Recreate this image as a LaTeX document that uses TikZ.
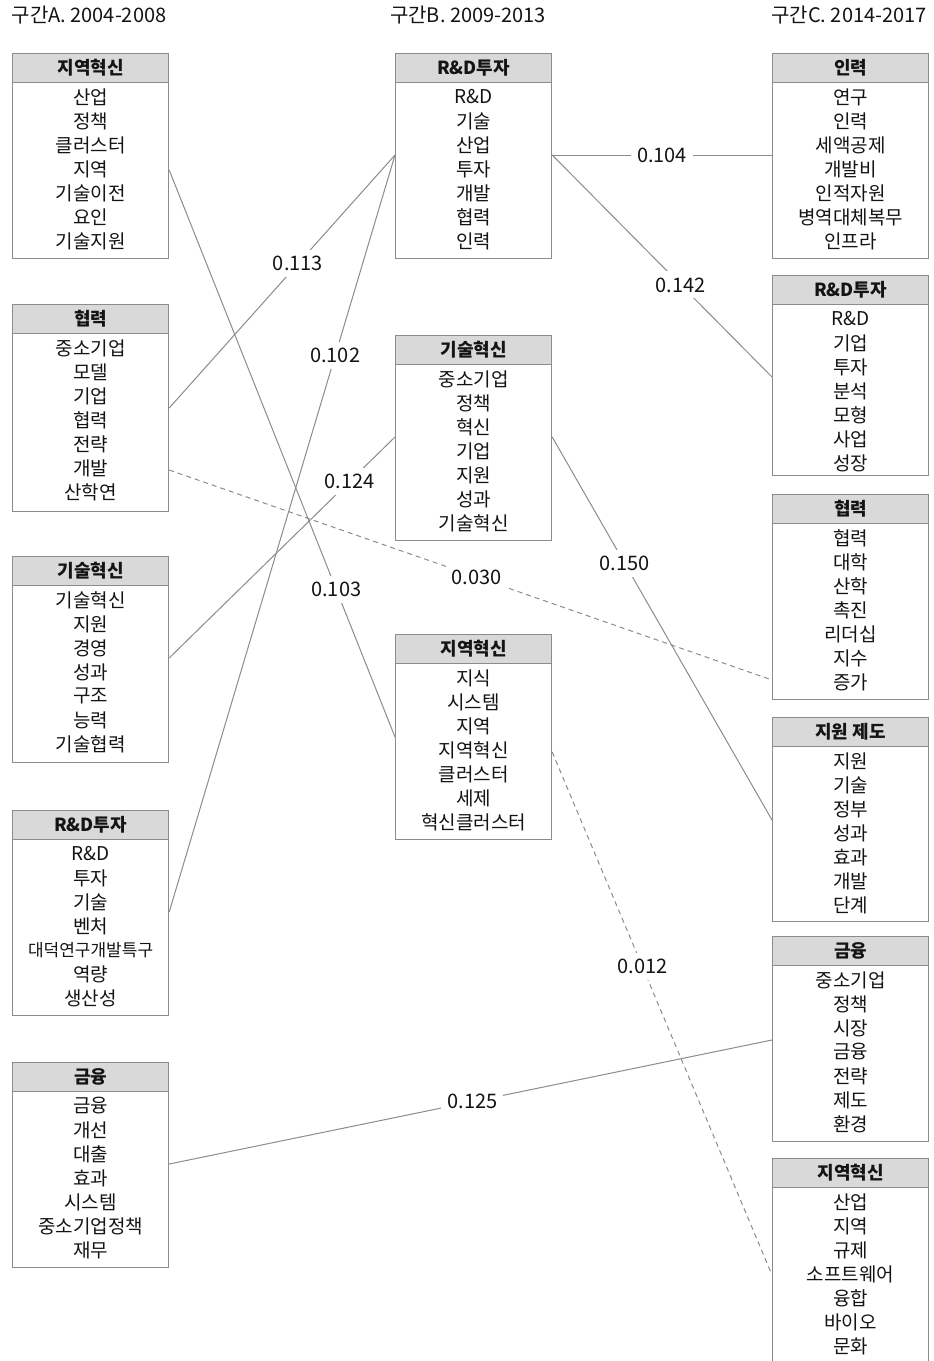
\documentclass[tikz,border=0pt]{standalone}
\usepackage{fontspec}
\setmainfont{Noto Sans CJK KR}
\definecolor{txt}{HTML}{141414}
\definecolor{boxline}{HTML}{8C8C8C}
\definecolor{headfill}{HTML}{D9D9D9}
\definecolor{edge}{HTML}{8C8C8C}
\tikzset{
  outerbox/.style={draw=boxline, line width=1.2pt, fill=white, minimum width=156, inner sep=0},
  headbox/.style={draw=boxline, line width=1.2pt, fill=headfill, minimum width=156, minimum height=29, inner sep=0, font=\fontsize{18}{20}\selectfont\bfseries, text=txt},
  itemtext/.style={inner sep=0, font=\fontsize{19}{22}\selectfont, text=txt},
  coltitle/.style={inner sep=0, font=\fontsize{20}{22}\selectfont, text=txt},
  link/.style={draw=edge, line width=1pt},
  dlink/.style={draw=edge, line width=1pt, dash pattern=on 5pt off 4pt},
  wlabel/.style={fill=white, inner sep=6pt, font=\fontsize{20}{22}\selectfont, text=txt}
}
% #1 name, #2 x left, #3 y top, #4 height, #5 title, #6 items
\newcommand\kwbox[6]{%
  \node[outerbox, minimum height=#4, anchor=north west] (#1) at (#2,#3) {};
  \node[headbox, anchor=north west] (#1h) at (#2,#3) {#5};
  \foreach \it [count=\k] in {#6} {
    \node[itemtext] (#1i\k) at ([yshift={-44-24*(\k-1)}]#1.north) {\it};
  }
}
\begin{document}
\begin{tikzpicture}[x=1pt,y=-1pt]
\useasboundingbox (0,0) rectangle (934,1361);
\fill[white] (0,0) rectangle (934,1361);

\node[coltitle] (tA) at (89,15) {구간A. 2004-2008};
\node[coltitle] (tB) at (468,15) {구간B. 2009-2013};
\node[coltitle] (tC) at (849,15) {구간C. 2014-2017};

% column A
\kwbox{a1}{12}{53}{205}{지역혁신}{산업,정책,클러스터,지역,기술이전,요인,기술지원}
\kwbox{a2}{12}{304}{207}{협력}{중소기업,모델,기업,협력,전략,개발,산학연}
\kwbox{a3}{12}{556}{206}{기술혁신}{기술혁신,지원,경영,성과,구조,능력,기술협력}
\kwbox{a4}{12}{810}{205}{R\&D투자}{R\&D,투자,기술,벤처,{\fontsize{17}{20}\selectfont 대덕연구개발특구},역량,생산성}
\kwbox{a5}{12}{1062}{205}{금융}{금융,개선,대출,효과,시스템,중소기업정책,재무}

% column B
\kwbox{b1}{395}{53}{205}{R\&D투자}{R\&D,기술,산업,투자,개발,협력,인력}
\kwbox{b2}{395}{335}{205}{기술혁신}{중소기업,정책,혁신,기업,지원,성과,기술혁신}
\kwbox{b3}{395}{634}{205}{지역혁신}{지식,시스템,지역,지역혁신,클러스터,세제,혁신클러스터}

% column C
\kwbox{c1}{772}{53}{205}{인력}{연구,인력,세액공제,개발비,인적자원,병역대체복무,인프라}
\kwbox{c2}{772}{275}{200}{R\&D투자}{R\&D,기업,투자,분석,모형,사업,성장}
\kwbox{c3}{772}{494}{205}{협력}{협력,대학,산학,촉진,리더십,지수,증가}
\kwbox{c4}{772}{717}{204}{지원 제도}{지원,기술,정부,성과,효과,개발,단계}
\kwbox{c5}{772}{936}{205}{금융}{중소기업,정책,시장,금융,전략,제도,환경}
\kwbox{c6}{772}{1158}{210}{지역혁신}{산업,지역,규제,소프트웨어,융합,바이오,문화}

% connectors
\draw[link] ([yshift=-117]a1.north east) -- node[wlabel, pos=0.74] (l1) {0.103} ([yshift=-103]b3.north west);
\draw[link] ([yshift=-104]a2.north east) -- node[wlabel, pos=0.57] (l2) {0.113} ([yshift=-102]b1.north west);
\draw[dlink] ([yshift=-166]a2.north east) -- node[wlabel, pos=0.51] (l3) {0.030} ([yshift=-186]c3.north west);
\draw[link] ([yshift=-102]a3.north east) -- node[wlabel, pos=0.80] (l4) {0.124} ([yshift=-102]b2.north west);
\draw[link] ([yshift=-102]a4.north east) -- node[wlabel, pos=0.735] (l5) {0.102} ([yshift=-102]b1.north west);
\draw[link] ([yshift=-102]a5.north east) -- node[wlabel, pos=0.503] (l6) {0.125} ([yshift=-104]c5.north west);
\draw[link] ([yshift=-102]b1.north east) -- node[wlabel, pos=0.5] (l7) {0.104} ([yshift=-102]c1.north west);
\draw[link] ([yshift=-102]b1.north east) -- node[wlabel, pos=0.585] (l8) {0.142} ([yshift=-102]c2.north west);
\draw[link] ([yshift=-102]b2.north east) -- node[wlabel, pos=0.33] (l9) {0.150} ([yshift=-103]c4.north west);
\draw[dlink] ([yshift=-118]b3.north east) -- node[wlabel, pos=0.41] (l10) {0.012} ([yshift=-117]c6.north west);
\end{tikzpicture}
\end{document}
